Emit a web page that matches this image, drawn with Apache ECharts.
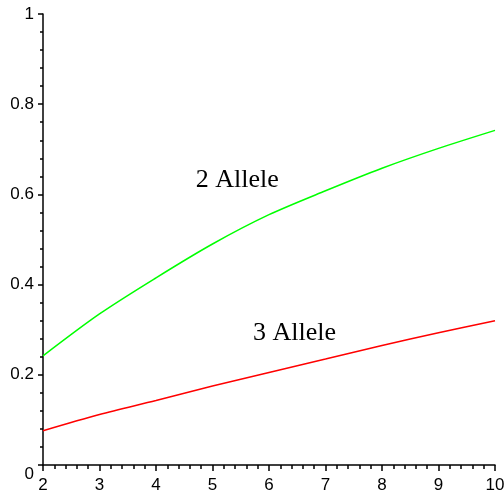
<!DOCTYPE html>
<html>
<head>
<meta charset="utf-8">
<script src="https://cdn.jsdelivr.net/npm/echarts@6/dist/echarts.min.js"></script>
<style>
  html, body { margin: 0; padding: 0; background: #fff; }
  #chart { width: 504px; height: 491px; }
</style>
</head>
<body>
<div id="chart"></div>
<script>
// values
var xValues = [2, 3, 4, 5, 6, 7, 8, 9, 10];
var allele2 = [0.242, 0.335, 0.415, 0.49, 0.555, 0.608, 0.658, 0.702, 0.742];
var allele3 = [0.076, 0.112, 0.143, 0.175, 0.205, 0.235, 0.265, 0.293, 0.32];
var curveLabels = [
  { name: '2 Allele', value: [5.44, 0.631] },
  { name: '3 Allele', value: [6.45, 0.293] }
];

function pairs(xs, ys) {
  var out = [];
  for (var i = 0; i < xs.length; i++) out.push([xs[i], ys[i]]);
  return out;
}

var chart = echarts.init(document.getElementById('chart'));
var axisFont = 'Liberation Sans, Arial, sans-serif';

chart.setOption({
  animation: false,
  grid: { left: 43, right: 9, top: 14, bottom: 26, outerBoundsMode: 'none', containLabel: false },
  xAxis: {
    type: 'value',
    min: 2,
    max: 10,
    interval: 1,
    splitLine: { show: false },
    axisLine: { show: true, lineStyle: { color: '#000', width: 1.5 } },
    axisTick: { show: true, length: 6, lineStyle: { color: '#000', width: 1.5 } },
    minorTick: { show: true, splitNumber: 5, length: 4, lineStyle: { color: '#000', width: 1.5 } },
    axisLabel: { color: '#000', fontSize: 17, fontFamily: axisFont, margin: 12 }
  },
  yAxis: {
    type: 'value',
    min: 0,
    max: 1,
    interval: 0.2,
    splitLine: { show: false },
    axisLine: { show: true, lineStyle: { color: '#000', width: 1.5 } },
    axisTick: { show: true, length: 5, lineStyle: { color: '#000', width: 1.5 } },
    minorTick: { show: true, splitNumber: 5, length: 3, lineStyle: { color: '#000', width: 1.5 } },
    axisLabel: {
      color: '#000', fontSize: 17, fontFamily: axisFont, margin: 9,
      formatter: function (v) {
        if (v === 0) return '{z|0}';
        if (v === 1) return '1';
        return v.toFixed(1);
      },
      rich: {
        z: { fontSize: 17, fontFamily: axisFont, color: '#000', padding: [18, 0, 0, 0] }
      }
    }
  },
  series: [
    {
      type: 'line',
      data: pairs(xValues, allele2),
      smooth: 0.3,
      showSymbol: false,
      lineStyle: { color: '#00ff00', width: 1.5 }
    },
    {
      type: 'line',
      data: pairs(xValues, allele3),
      smooth: 0.3,
      showSymbol: false,
      lineStyle: { color: '#ff0000', width: 1.5 }
    },
    {
      type: 'scatter',
      data: curveLabels,
      symbolSize: 0,
      itemStyle: { opacity: 1 },
      label: {
        show: true,
        position: 'inside',
        formatter: '{b}',
        color: '#000',
        opacity: 1,
        textBorderWidth: 0,
        fontSize: 26,
        fontFamily: 'Liberation Serif, Times New Roman, serif'
      }
    }
  ]
});
</script>
</body>
</html>
